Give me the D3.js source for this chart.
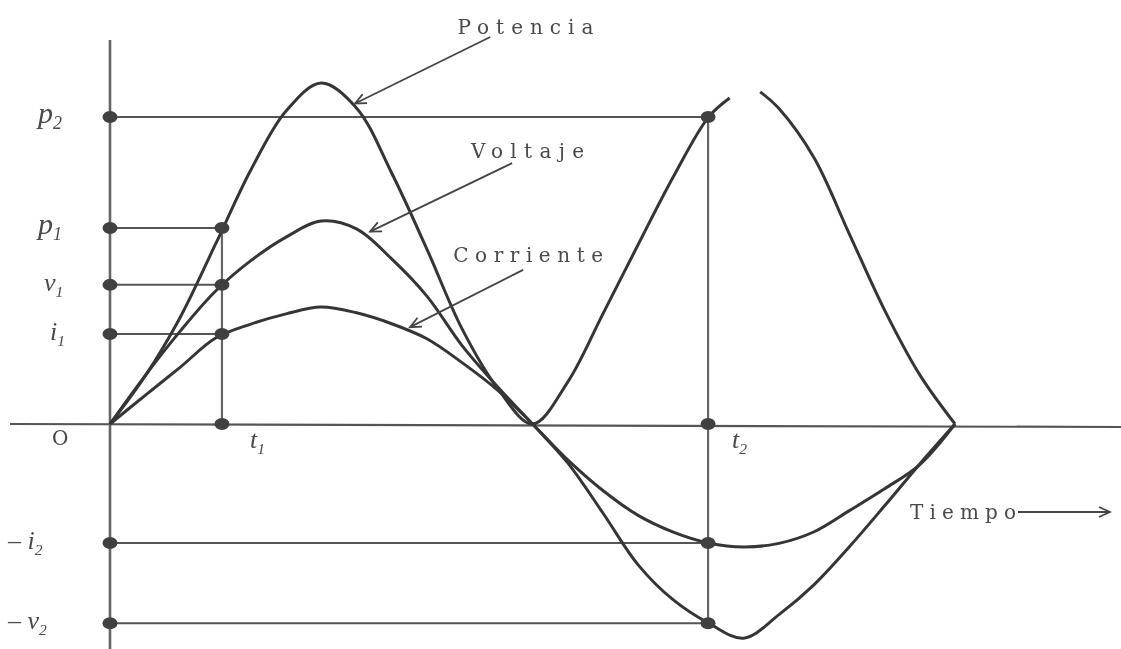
<!DOCTYPE html>
<html>
<head>
<meta charset="utf-8">
<style>
  body { margin: 0; background: #fff; }
  svg { display: block; }
  .lbl { font-family: "DejaVu Serif", "Liberation Serif", serif; fill: #4a4a4a; }
  .sym { font-family: "Liberation Serif", "DejaVu Serif", serif; font-style: italic; fill: #4a4a4a; }
</style>
</head>
<body>
<svg width="1121" height="649"></svg>
<script src="https://d3js.org/d3.v7.min.js"></script>
<script>
// tiempo en grados (un periodo completo = 360)
var tiempo    = [0, 15, 30, 45, 60, 75, 90, 105, 120, 135, 150, 165, 180,
                 195, 210, 225, 240, 255, 270, 285, 300, 315, 330, 345, 360];
var voltaje   = [0, 14.2, 27.3, 39, 47.9, 54.8, 59.5, 57.2, 48.4, 37.5, 23, 11, 0,
                 -11.4, -26.1, -41.3, -51.6, -58.4, -62.8, -55.9, -47.1, -36, -24, -11.7, 0];
var corriente = [0, 8.4, 16.7, 25.2, 29.3, 32.3, 34.3, 32.6, 29.4, 25, 18, 10, 0,
                 -10.5, -19.5, -26.8, -31.7, -34.9, -36.1, -35, -31.6, -25.4, -19, -11.9, 0];

// la potencia tiene la cresta del segundo lobulo cortada en la figura
var tiempoP   = [0, 15, 30, 45, 60, 75, 90, 105, 120, 135, 150, 165, 180,
                 195, 210, 225, 240, 255, 264, 270, 277, 285, 300, 315, 330, 345, 360];
var potencia  = [0, 14.1, 31.4, 52.8, 74.5, 91.8, 100, 92.7, 73.6, 51.3, 27.9, 10.6, 0,
                 12.3, 32.3, 52.6, 72.5, 90, 95.6, null, 97.4, 92.5, 78, 55.7, 33.4, 14.4, 0];

// instantes y valores marcados
var t1 = 47.7, t2 = 254.8;
var p1 = 57.5, v1 = 40.8, i1 = 26.4;
var p2 = 90, negI2 = -34.9, negV2 = -58.4;

var svg = d3.select("svg");
var x = d3.scaleLinear().domain([0, 360]).range([110, 955]);
var y = d3.scaleLinear().domain([0, 100]).range([424, 83]);

var defs = svg.append("defs");
defs.append("filter").attr("id", "soft")
    .append("feGaussianBlur").attr("stdDeviation", 0.55);
defs.append("marker")
    .attr("id", "chev").attr("viewBox", "-12 -7 14 14")
    .attr("markerWidth", 14).attr("markerHeight", 14)
    .attr("markerUnits", "userSpaceOnUse")
    .attr("orient", "auto")
    .append("path").attr("d", "M-11,-5 L0,0 L-11,5")
    .attr("fill", "none").attr("stroke", "#444").attr("stroke-width", 1.8);

var g = svg.append("g").attr("filter", "url(#soft)");

// ejes
g.append("line")
    .attr("x1", 10).attr("x2", 1121).attr("y1", y(0)).attr("y2", y(0) + 3)
    .attr("stroke", "#555").attr("stroke-width", 2.2);
g.append("line")
    .attr("x1", x(0)).attr("x2", x(0)).attr("y1", 40).attr("y2", 649)
    .attr("stroke", "#666").attr("stroke-width", 2.6);

// lineas de referencia horizontales
var refs = [
  {v: p2, t: t2}, {v: p1, t: t1}, {v: v1, t: t1}, {v: i1, t: t1},
  {v: negI2, t: t2}, {v: negV2, t: t2}
];
g.selectAll(".href").data(refs).enter().append("line")
    .attr("x1", x(0)).attr("x2", function(d){ return x(d.t); })
    .attr("y1", function(d){ return y(d.v); }).attr("y2", function(d){ return y(d.v); })
    .attr("stroke", "#555").attr("stroke-width", 2);

// lineas verticales en t1 y t2
g.append("line").attr("x1", x(t1)).attr("x2", x(t1))
    .attr("y1", y(p1)).attr("y2", y(0))
    .attr("stroke", "#666").attr("stroke-width", 2.2);
g.append("line").attr("x1", x(t2)).attr("x2", x(t2))
    .attr("y1", y(p2)).attr("y2", y(negV2))
    .attr("stroke", "#666").attr("stroke-width", 2.2);

// curvas
var line = d3.line()
    .defined(function(d){ return d[1] != null; })
    .x(function(d){ return x(d[0]); })
    .y(function(d){ return y(d[1]); })
    .curve(d3.curveCatmullRom.alpha(0.5));

var series = [
  d3.zip(tiempoP, potencia),
  d3.zip(tiempo, voltaje),
  d3.zip(tiempo, corriente)
];
g.selectAll(".curve").data(series).enter().append("path")
    .attr("d", line)
    .attr("fill", "none").attr("stroke", "#363636").attr("stroke-width", 3);

// puntos
var dots = [
  [0, p2], [0, p1], [0, v1], [0, i1], [0, negI2], [0, negV2],
  [t1, p1], [t1, v1], [t1, i1], [t1, 0],
  [t2, p2], [t2, 0], [t2, negI2], [t2, negV2]
];
g.selectAll(".dot").data(dots).enter().append("ellipse")
    .attr("cx", function(d){ return x(d[0]); })
    .attr("cy", function(d){ return y(d[1]); })
    .attr("rx", 7.5).attr("ry", 6)
    .attr("fill", "#404040");

// etiquetas de los ejes (con subindice)
function sym(px, py, pre, main, sub, size) {
  var t = g.append("text").attr("class", "sym")
      .attr("x", px).attr("y", py).attr("font-size", size);
  if (pre) t.append("tspan").style("font-style", "normal").text(pre);
  t.append("tspan").text(main);
  if (sub) t.append("tspan").attr("dy", 6).attr("font-size", size * 0.6).text(sub);
}
sym(38, y(p2) + 6, null, "p", "2", 30);
sym(38, y(p1) + 6, null, "p", "1", 30);
sym(44, y(v1) + 6, null, "v", "1", 26);
sym(50, y(i1) + 6, null, "i", "1", 26);
sym(8, y(negI2) + 6, "– ", "i", "2", 26);
sym(8, y(negV2) + 6, "– ", "v", "2", 26);
sym(x(t1) + 28, y(0) + 24, null, "t", "1", 26);
sym(x(t2) + 24, y(0) + 24, null, "t", "2", 26);
g.append("text").attr("class", "lbl")
    .attr("x", 52).attr("y", y(0) + 21).attr("font-size", 20).text("O");

// rotulos con flecha
var notes = [
  {text: "Potencia",  w: 136, lt: 148.0, lv: 114.5, ft: 162, fv: 113.5, tt: 104.4, tv: 94},
  {text: "Voltaje",   w: 113, lt: 153.8, lv: 78.0,  ft: 171.3, fv: 76.5, tt: 110.8, tv: 56.4},
  {text: "Corriente", w: 150, lt: 146.2, lv: 47.5,  ft: 176, fv: 45.2, tt: 127.8, tv: 28.4}
];
g.selectAll(".note").data(notes).enter().append("text")
    .attr("class", "lbl")
    .attr("x", function(d){ return x(d.lt); })
    .attr("y", function(d){ return y(d.lv); })
    .attr("font-size", 20)
    .attr("textLength", function(d){ return d.w; })
    .attr("lengthAdjust", "spacing")
    .text(function(d){ return d.text; });
g.selectAll(".ptr").data(notes).enter().append("line")
    .attr("x1", function(d){ return x(d.ft); }).attr("y1", function(d){ return y(d.fv); })
    .attr("x2", function(d){ return x(d.tt); }).attr("y2", function(d){ return y(d.tv); })
    .attr("stroke", "#444").attr("stroke-width", 1.8)
    .attr("marker-end", "url(#chev)");

// eje del tiempo
g.append("text").attr("class", "lbl")
    .attr("x", 910).attr("y", 519).attr("font-size", 20)
    .attr("textLength", 106).attr("lengthAdjust", "spacing")
    .text("Tiempo");
g.append("line").attr("x1", 1018).attr("x2", 1110).attr("y1", 512).attr("y2", 512)
    .attr("stroke", "#444").attr("stroke-width", 1.8)
    .attr("marker-end", "url(#chev)");
</script>
</body>
</html>
